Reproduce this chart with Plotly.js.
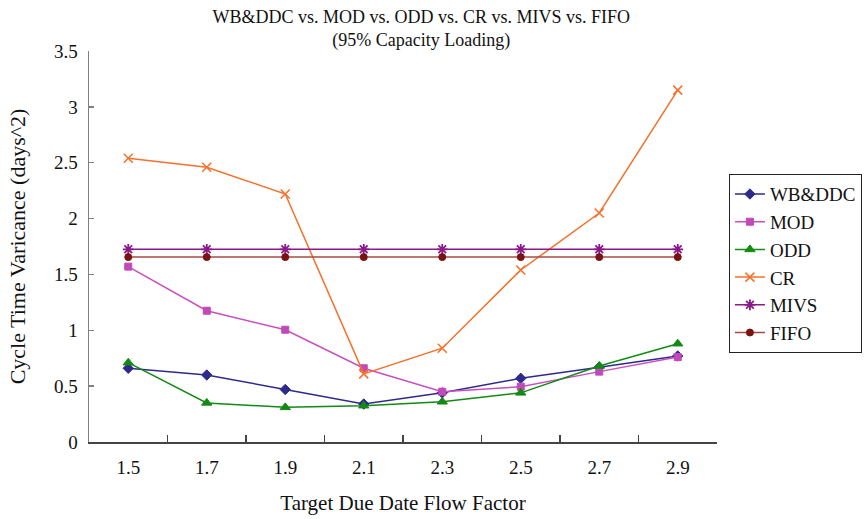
<!DOCTYPE html>
<html>
<head>
<meta charset="utf-8">
<script src="https://cdn.plot.ly/plotly-3.0.1.min.js"></script>
<style>
  html, body { margin: 0; padding: 0; background: #fff; }
  #chart { width: 865px; height: 519px; }
</style>
</head>
<body>
<div id="chart"></div>
<script>
// Target due date flow factors (category axis)
const flowFactors = ['1.5', '1.7', '1.9', '2.1', '2.3', '2.5', '2.7', '2.9'];

// Cycle time variance (days^2) per dispatching rule
const wbddc = [0.66, 0.60, 0.47, 0.34, 0.44, 0.57, 0.67, 0.77];
const mod   = [1.57, 1.175, 1.005, 0.66, 0.45, 0.495, 0.63, 0.76];
const odd   = [0.71, 0.35, 0.31, 0.325, 0.36, 0.44, 0.68, 0.88];
const cr    = [2.54, 2.46, 2.22, 0.61, 0.84, 1.54, 2.05, 3.15];
const mivs  = [1.725, 1.725, 1.725, 1.725, 1.725, 1.725, 1.725, 1.725];
const fifo  = [1.655, 1.655, 1.655, 1.655, 1.655, 1.655, 1.655, 1.655];

const serif = 'Liberation Serif, Times New Roman, serif';

function series(name, y, lineColor, markerColor, symbol, size, markerLineWidth) {
  return {
    type: 'scatter',
    mode: 'lines+markers',
    name: name,
    x: flowFactors,
    y: y,
    line: { color: lineColor, width: 1.5 },
    marker: { color: markerColor, symbol: symbol, size: size,
              line: { color: markerColor, width: markerLineWidth } }
  };
}

const traces = [
  series('WB&DDC', wbddc, '#2E2A8C', '#2E2A8C', 'diamond', 8, 1),
  series('MOD', mod, '#C94FC0', '#C04AB8', 'square', 7, 1),
  series('ODD', odd, '#138A13', '#138A13', 'triangle-up', 9, 1),
  series('CR', cr, '#F5702A', '#F5702A', 'x-thin-open', 9, 1.5),
  series('MIVS', mivs, '#8A1A8A', '#8A1A8A', 'asterisk-open', 9, 1.8),
  series('FIFO', fifo, '#A84A44', '#7A1212', 'circle', 7, 1)
];

const layout = {
  width: 865,
  height: 519,
  margin: { l: 89, r: 148, t: 51, b: 77, pad: 0, autoexpand: false },
  paper_bgcolor: '#ffffff',
  plot_bgcolor: '#ffffff',
  font: { family: serif, color: '#111111', size: 19 },
  showlegend: true,
  title: {
    text: 'WB&DDC vs. MOD vs. ODD vs. CR vs. MIVS vs. FIFO<br>(95% Capacity Loading)',
    font: { family: serif, size: 18, color: '#111111' },
    x: 0.487, xanchor: 'center',
    y: 0.956, yanchor: 'top'
  },
  xaxis: {
    type: 'category',
    range: [-0.5, 7.5],
    automargin: false,
    showgrid: false,
    zeroline: false,
    showline: true,
    linecolor: '#444444',
    linewidth: 1.5,
    ticks: 'inside',
    tickson: 'boundaries',
    ticklen: 7,
    tickcolor: '#444444',
    tickwidth: 1.5,
    tickfont: { family: serif, size: 19, color: '#111111' },
    ticklabelstandoff: 8,
    title: { text: 'Target Due Date Flow Factor',
             font: { family: serif, size: 21, color: '#111111' },
             standoff: 18 },
    fixedrange: true
  },
  yaxis: {
    range: [0, 3.5],
    dtick: 0.5,
    tick0: 0,
    automargin: false,
    showgrid: false,
    zeroline: false,
    showline: true,
    linecolor: '#808080',
    linewidth: 1.5,
    ticks: 'inside',
    ticklen: 5,
    tickcolor: '#808080',
    tickwidth: 1.5,
    tickfont: { family: serif, size: 19, color: '#111111' },
    ticklabelstandoff: 6,
    title: { text: 'Cycle Time Varicance (days^2)',
             font: { family: serif, size: 22, color: '#111111' },
             standoff: 22 },
    fixedrange: true
  },
  legend: {
    x: 1.019, xanchor: 'left',
    y: 0.685, yanchor: 'top',
    bordercolor: '#222222',
    borderwidth: 1,
    bgcolor: '#ffffff',
    font: { family: serif, size: 19, color: '#111111' },
    tracegroupgap: 0,
    itemwidth: 30
  }
};

Plotly.newPlot('chart', traces, layout, { displayModeBar: false, staticPlot: true });
</script>
</body>
</html>
